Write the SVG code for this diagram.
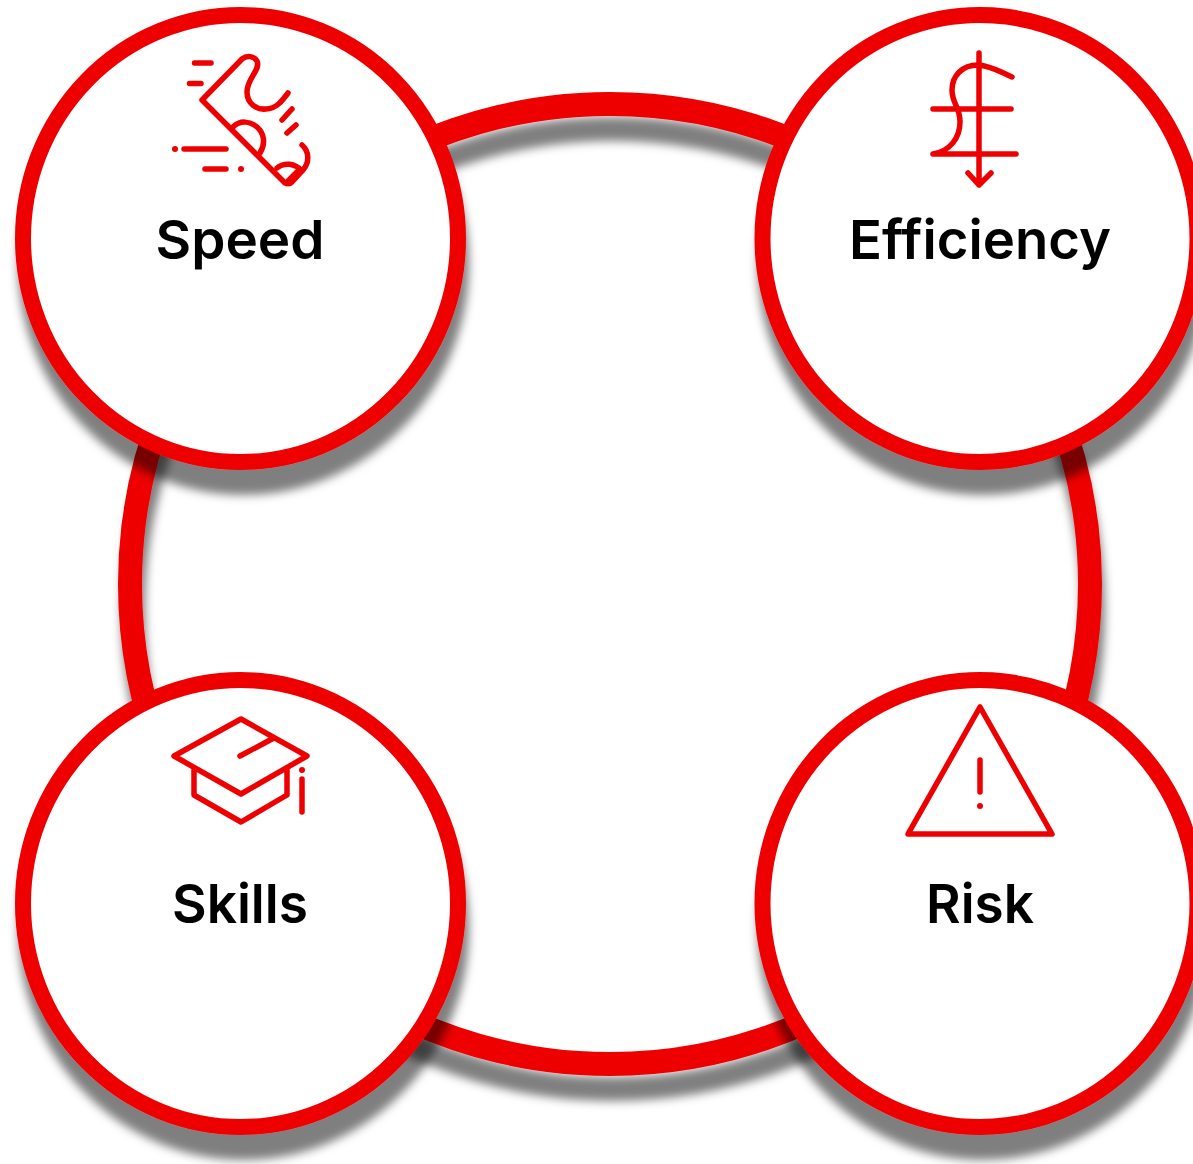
<svg xmlns="http://www.w3.org/2000/svg" width="1193" height="1164" viewBox="0 0 1193 1164">
<defs>
<style>
.disc{fill:#fff;stroke:#ee0000;stroke-width:16;filter:url(#sh)}
.ring{fill:none;stroke:#ee0000;stroke-width:24;filter:url(#sh)}
.ic{fill:none;stroke:#ee0000;stroke-width:5.500;stroke-linecap:round;stroke-linejoin:round}
.dot{fill:#ee0000}
.lb{font-family:"Inter","Noto Sans",sans-serif;font-weight:600;font-size:54px;fill:#000;text-anchor:middle}
</style>
<filter id="sh" x="-15%" y="-15%" width="130%" height="130%"><feDropShadow dx="3" dy="25" stdDeviation="5" flood-color="#000" flood-opacity="0.5"/></filter>
</defs>
<rect width="1193" height="1164" fill="#fff"/>
<g id="connectors"><circle class="ring" cx="610" cy="584" r="480"/></g>
<g id="speed">
<ellipse class="disc" cx="240.500" cy="238.500" rx="217.500" ry="223.500"/>
<path class="ic" d="M242 59L202 100L285 183Q289 185 292 182L303 170C310 162 309 151 302 145M242 59C247 55 254 56 257 61C261 70 247 78 247 92C247 104 257 110 266 109C276 109 282 101 288 93"/>
<path class="ic" d="M233 127C240 120 250 121 257 127C264 133 266 143 260 153M277 168C284 162 295 163 302 171M297 172L288 181"/>
<path class="ic" d="M194.500 63H211M189.500 83.500H201M282 120L292 109M287 133L296 125M184 149H226M205 169H226"/>
<circle class="dot" cx="175" cy="149" r="3"/><circle class="dot" cx="241" cy="169" r="3"/>
<text class="lb" x="240" y="259" textLength="169" lengthAdjust="spacingAndGlyphs">Speed</text>
</g>
<g id="efficiency">
<ellipse class="disc" cx="980" cy="238.500" rx="217.500" ry="223.500"/>
<path class="ic" d="M979 53V185M968 173L979 185L991 173M933 109H1011M933 154H1016M1012 77C1000 72 992 66 978 65C962 65 952 76 952 90C952 104 960 106 960 122C960 138 950 151 933 154"/>
<text class="lb" x="980" y="259" textLength="262" lengthAdjust="spacingAndGlyphs">Efficiency</text>
</g>
<g id="skills">
<ellipse class="disc" cx="240.500" cy="903.500" rx="217.500" ry="223.500"/>
<path class="ic" d="M241 719L307 756L241 794L174 756ZM194 768V795L241 822L287 795V768M272 739L240 756M302 779V812"/>
<circle class="dot" cx="302" cy="770" r="3"/>
<text class="lb" x="240" y="923" textLength="136" lengthAdjust="spacingAndGlyphs">Skills</text>
</g>
<g id="risk">
<ellipse class="disc" cx="980" cy="903.500" rx="217.500" ry="223.500"/>
<path class="ic" d="M980 707L1052 834H908ZM980 760V792"/>
<circle class="dot" cx="980" cy="806" r="3"/>
<text class="lb" x="980" y="923" textLength="108" lengthAdjust="spacingAndGlyphs">Risk</text>
</g>
</svg>
